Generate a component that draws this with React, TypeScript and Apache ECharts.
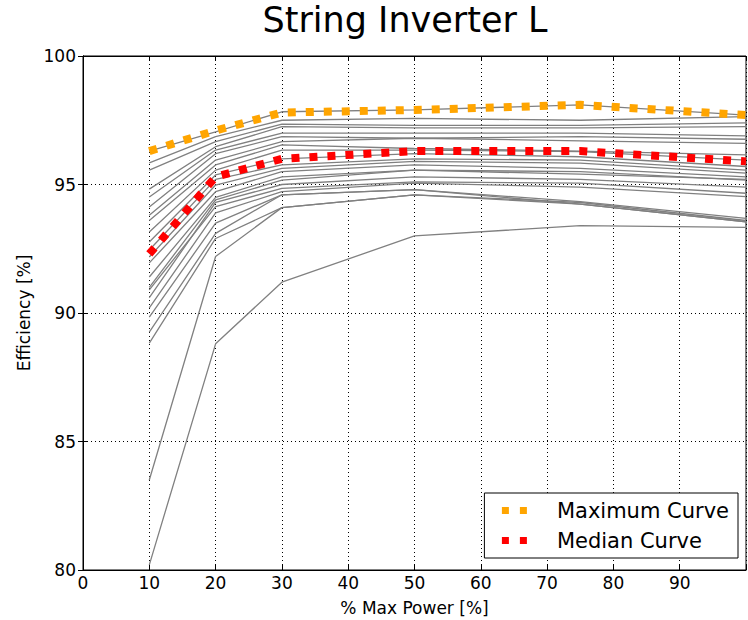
import React, { useEffect, useRef } from "react";
import * as echarts from "echarts";

const xValues = [10, 20, 30, 50, 75, 100];

const xTicks = [0, 10, 20, 30, 40, 50, 60, 70, 80, 90];
const yTicks = [80, 85, 90, 95, 100];

const grayCurves: number[][] = [
  [96.3, 97.05, 97.83, 97.9, 98.1, 97.7],
  [95.84, 96.86, 97.5, 97.57, 97.5, 97.64],
  [95.56, 96.67, 97.35, 97.3, 97.3, 97.4],
  [94.82, 96.47, 97.25, 97.2, 97.2, 97.25],
  [94.51, 96.34, 97.0, 97.0, 97.0, 96.89],
  [94.12, 96.2, 96.86, 96.8, 96.86, 96.76],
  [93.8, 95.95, 96.67, 96.8, 96.7, 96.6],
  [93.6, 95.76, 96.54, 96.4, 96.3, 96.15],
  [93.15, 95.56, 96.34, 96.34, 96.28, 95.95],
  [92.76, 95.37, 96.0, 96.2, 96.08, 95.7],
  [92.45, 95.2, 95.76, 96.0, 95.95, 95.56],
  [92.18, 94.98, 95.63, 95.9, 95.83, 95.44],
  [91.95, 94.72, 95.5, 95.76, 95.63, 95.3],
  [91.4, 94.5, 95.3, 95.56, 95.5, 95.17],
  [91.0, 94.4, 95.17, 95.56, 95.4, 95.2],
  [90.6, 94.3, 95.0, 95.3, 95.2, 94.9],
  [90.9, 94.14, 94.85, 95.1, 95.05, 94.66],
  [90.2, 93.9, 94.72, 95.05, 94.9, 94.53],
  [89.84, 93.5, 94.6, 94.8, 94.33, 93.68],
  [89.26, 93.1, 94.6, 94.8, 94.24, 93.55],
  [88.83, 92.9, 94.1, 94.6, 94.3, 93.6],
  [83.5, 92.2, 94.1, 94.6, 94.24, 93.55],
  [80.2, 88.8, 91.2, 93.0, 93.4, 93.33],
];

const maxCurve = [96.3, 97.1, 97.8, 97.9, 98.1, 97.7];
const medianCurve = [92.3, 95.3, 96.0, 96.3, 96.3, 95.9];

const FONT = "DejaVu Sans";

function toPairs(vals: number[]) {
  return vals.map((v, i) => [xValues[i], v]);
}

export default function App() {
  const ref = useRef<HTMLDivElement>(null);
  useEffect(() => {
    if (!ref.current) return;
    const chart = echarts.init(ref.current, null, { renderer: "svg" });
    const axisCommon = {
      type: "value" as const,
      axisLine: { show: true, lineStyle: { color: "#000", width: 1 } },
      axisTick: { show: true, inside: true, length: 5, lineStyle: { color: "#000" } },
    };
    const option: any = {
      animation: false,
      backgroundColor: "#fff",
      grid: {
        left: 83,
        right: 2,
        top: 56,
        bottom: 50,
        show: true,
        borderColor: "#000",
        borderWidth: 1,
        backgroundColor: "transparent",
        containLabel: false,
        outerBoundsMode: "none",
      },
      graphic: [
        {
          type: "text",
          x: 405,
          y: 20,
          style: {
            text: "String Inverter L",
            fontFamily: FONT,
            fontSize: 35,
            fill: "#000",
            textAlign: "center",
            textVerticalAlign: "middle",
          },
        },
      ],
      xAxis: [
        {
          ...axisCommon,
          min: 0,
          max: 100,
          interval: 10,
          name: "% Max Power [%]",
          nameLocation: "middle",
          nameGap: 29,
          nameTextStyle: { fontFamily: FONT, fontSize: 17, color: "#000" },
          axisLabel: {
            color: "#000",
            fontFamily: FONT,
            fontSize: 17,
            margin: 4,
            formatter: (v: number) => (xTicks.includes(v) ? String(v) : ""),
          },
          splitLine: { show: true, lineStyle: { color: "#000", type: [1, 3], width: 1 } },
        },
        {
          ...axisCommon,
          position: "top",
          min: 0,
          max: 100,
          interval: 10,
          axisLabel: { show: false },
          splitLine: { show: false },
        },
      ],
      yAxis: [
        {
          ...axisCommon,
          min: 80,
          max: 100,
          interval: 5,
          name: "Efficiency [%]",
          nameLocation: "middle",
          nameGap: 49,
          nameTextStyle: { fontFamily: FONT, fontSize: 17, color: "#000" },
          axisLabel: {
            color: "#000",
            fontFamily: FONT,
            fontSize: 17,
            margin: 7,
            formatter: (v: number) => (yTicks.includes(v) ? String(v) : ""),
          },
          splitLine: { show: true, lineStyle: { color: "#000", type: [1, 3], width: 1 } },
        },
        {
          ...axisCommon,
          position: "right",
          min: 80,
          max: 100,
          interval: 5,
          axisLabel: { show: false },
          splitLine: { show: false },
        },
      ],
      legend: {
        data: ["Maximum Curve", "Median Curve"],
        orient: "vertical",
        right: 10,
        bottom: 62,
        padding: [7, 9, 7, 14],
        itemGap: 9,
        itemWidth: 25,
        itemHeight: 14,
        borderColor: "#000",
        borderWidth: 1,
        borderRadius: 0,
        backgroundColor: "#fff",
        itemStyle: { opacity: 0, borderWidth: 0 },
        lineStyle: { width: 7, type: [7, 11], cap: "butt" },
        textStyle: {
          fontFamily: FONT,
          fontSize: 21,
          color: "#000",
          padding: [0, 0, 0, 25],
        },
      },
      series: [
        ...grayCurves.map((c, i) => ({
          name: "curve" + i,
          type: "line",
          data: toPairs(c),
          symbol: "none",
          silent: true,
          z: 2,
          lineStyle: { color: "#808080", width: 1.3 },
        })),
        {
          name: "Maximum Curve",
          type: "line",
          data: toPairs(maxCurve),
          symbol: "none",
          z: 5,
          color: "#FFA500",
          lineStyle: { color: "#FFA500", width: 8, type: [8, 10], cap: "butt" },
        },
        {
          name: "Median Curve",
          type: "line",
          data: toPairs(medianCurve),
          symbol: "none",
          z: 5,
          color: "#FF0000",
          lineStyle: { color: "#FF0000", width: 8, type: [8, 10], cap: "butt" },
        },
      ],
    };
    chart.setOption(option);
    return () => chart.dispose();
  }, []);
  return (
    <div
      ref={ref}
      style={{ position: "absolute", left: 0, top: 0, width: 748, height: 620 }}
    />
  );
}
